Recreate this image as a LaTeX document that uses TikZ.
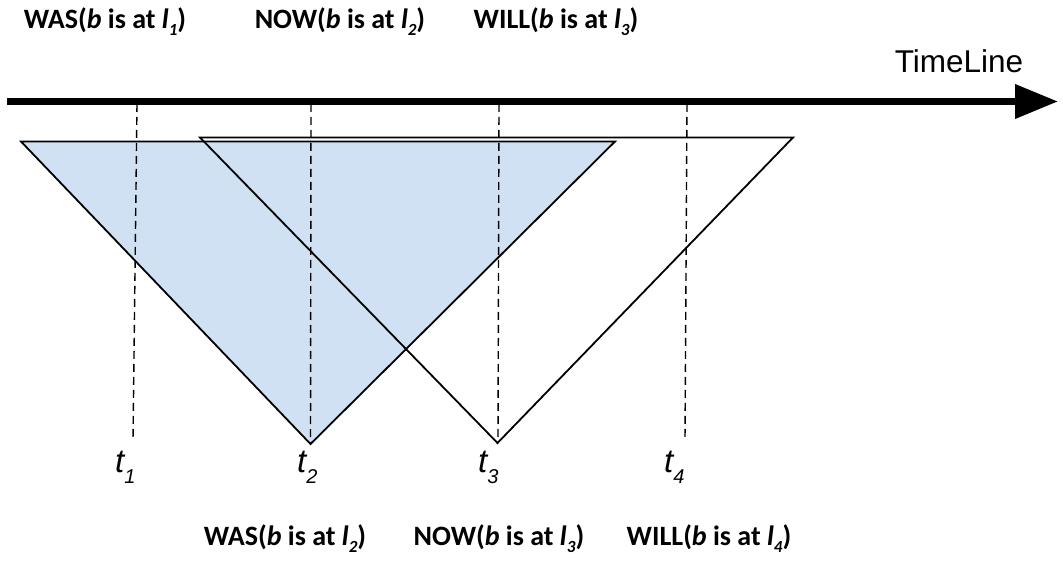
\documentclass[tikz,border=0pt]{standalone}
\usepackage{fontspec}
\setmainfont{Carlito}
\newfontfamily\arialf{Liberation Sans}
\usetikzlibrary{arrows.meta}
\definecolor{coneblue}{RGB}{207,225,242}
\newcommand{\statelab}[2]{\textbf{#1(\textit{b} is at \textit{l}\raisebox{-7pt}{\fontsize{17}{17}\selectfont\textit{#2}})}}
\newcommand{\tlab}[1]{\arialf\itshape t\raisebox{-11pt}{\fontsize{20}{20}\selectfont #1}}
\begin{document}
\begin{tikzpicture}[x=1pt,y=-1pt,
  statetext/.style={font=\fontsize{28}{30}\selectfont, anchor=base, inner sep=0},
  timetext/.style={font=\fontsize{33}{34}\selectfont, anchor=base west, inner sep=0},
  guide/.style={line width=1.4pt, dash pattern=on 8pt off 5pt},
  cone/.style={line width=1.8pt, line join=miter},
  axis/.style={line width=7pt, -{Triangle[length=43pt,width=33pt]}}]
\useasboundingbox (0,0) rectangle (1063,561);

% timeline
\coordinate (tl0) at (7,101.5);
\coordinate (tl1) at (1058,101.5);
\node[anchor=base, inner sep=0, font=\arialf\fontsize{31.5}{33}\selectfont] (tltext) at (959,73) {TimeLine};

% cones
\coordinate (b1) at (21,141.5);
\coordinate (b2) at (615,141.5);
\coordinate (b3) at (310.5,444);
\coordinate (w1) at (200,137.5);
\coordinate (w2) at (793,137.5);
\coordinate (w3) at (497.5,443);
\fill[coneblue] (b1) -- (b2) -- (b3) -- cycle;
\draw[cone] (b1) -- (b2) -- (b3) -- cycle;
\draw[cone] (w1) -- (w2) -- (w3) -- cycle;

% guides
\coordinate (g1t) at (137,104);
\coordinate (g1b) at (133,440);
\coordinate (g2t) at (311,104);
\coordinate (g2b) at (310.5,444);
\coordinate (g3t) at (499,104);
\coordinate (g3b) at (498,440);
\coordinate (g4t) at (687,104);
\coordinate (g4b) at (685,440);
\draw[guide] (g1t) -- (g1b);
\draw[guide] (g2t) -- (g2b);
\draw[guide] (g3t) -- (g3b);
\draw[guide] (g4t) -- (g4b);

\draw[axis] (tl0) -- (tl1);

% time labels
\node[timetext] (t1) at (115,472) {\tlab{1}};
\node[timetext] (t2) at (297,472) {\tlab{2}};
\node[timetext] (t3) at (478,472) {\tlab{3}};
\node[timetext] (t4) at (664,472) {\tlab{4}};

% state labels
\node[statetext] (s1) at (105,29) {\statelab{WAS}{1}};
\node[statetext] (s2) at (340,29) {\statelab{NOW}{2}};
\node[statetext] (s3) at (556,29) {\statelab{WILL}{3}};
\node[statetext] (s4) at (285,545) {\statelab{WAS}{2}};
\node[statetext] (s5) at (499,545) {\statelab{NOW}{3}};
\node[statetext] (s6) at (709,545) {\statelab{WILL}{4}};
\end{tikzpicture}
\end{document}
